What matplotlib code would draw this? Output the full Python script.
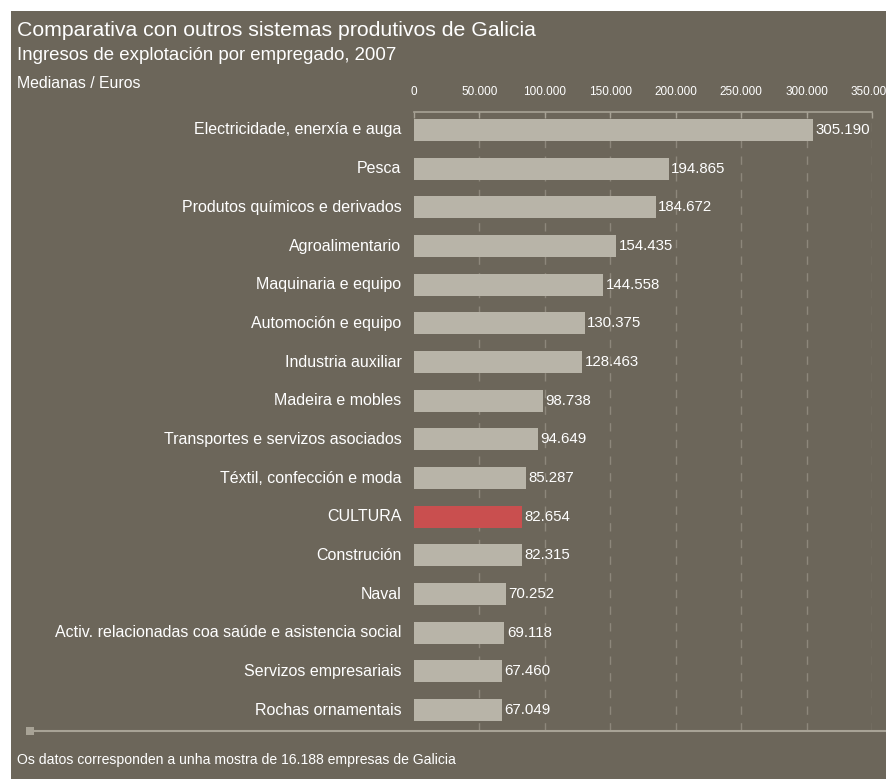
import matplotlib
matplotlib.use("Agg")
import matplotlib.pyplot as plt
from matplotlib.patches import Rectangle

categories = ["Electricidade, enerxía e auga", "Pesca", "Produtos químicos e derivados",
              "Agroalimentario", "Maquinaria e equipo", "Automoción e equipo",
              "Industria auxiliar", "Madeira e mobles", "Transportes e servizos asociados",
              "Téxtil, confección e moda", "CULTURA", "Construción", "Naval",
              "Activ. relacionadas coa saúde e asistencia social", "Servizos empresariais",
              "Rochas ornamentais"]
values = [305190, 194865, 184672, 154435, 144558, 130375, 128463, 98738, 94649,
          85287, 82654, 82315, 70252, 69118, 67460, 67049]
value_labels = ["305.190", "194.865", "184.672", "154.435", "144.558", "130.375", "128.463",
                "98.738", "94.649", "85.287", "82.654", "82.315", "70.252", "69.118",
                "67.460", "67.049"]
ticks = [0, 50000, 100000, 150000, 200000, 250000, 300000, 350000]
tick_labels = ["0", "50.000", "100.000", "150.000", "200.000", "250.000", "300.000", "350.000"]

W, H = 887, 779
BG = "#6c665a"
BAR = "#b8b4a8"
RED = "#c94f4f"
GRID = "#8d877b"
LINE = "#a8a396"
FONT = "Liberation Sans"

fig = plt.figure(figsize=(W / 100, H / 100), dpi=100)
fig.patch.set_facecolor("white")
# background panel
fig.patches.append(Rectangle((11 / W, 0), 1 - 11 / W, 1 - 11 / H, transform=fig.transFigure,
                             facecolor=BG, edgecolor="none", zorder=-10))

def fx(px):
    return px / W

def fy(py):
    return 1 - py / H

ax_left, ax_right, ax_top, ax_bot = 414, 872, 112, 731
ax = fig.add_axes([fx(ax_left), fy(ax_bot), (ax_right - ax_left) / W, (ax_bot - ax_top) / H])
ax.set_facecolor("none")
ax.set_xlim(0, 350000)
ax.set_ylim(15.54, -0.465)

colors = [RED if c == "CULTURA" else BAR for c in categories]
ypos = list(range(len(categories)))
ax.barh(ypos, values, height=0.57, color=colors, zorder=3)

for t in ticks[1:]:
    ax.axvline(t, color=GRID, lw=1, ls=(0, (6, 6)), zorder=1)

for y, v, lab in zip(ypos, values, value_labels):
    ax.text(v + 1800, y, lab, color="white", fontsize=10.8, va="center", ha="left",
            family=FONT, zorder=4)

for y, c in zip(ypos, categories):
    ax.text(-9500, y, c, color="white", fontsize=11.5, va="center", ha="right",
            family=FONT, clip_on=False)

for s in ax.spines.values():
    s.set_visible(False)
ax.spines["top"].set_visible(True)
ax.spines["top"].set_color(LINE)
ax.spines["top"].set_linewidth(1.2)
ax.xaxis.tick_top()
ax.set_xticks(ticks)
ax.set_xticklabels(tick_labels, family=FONT, fontsize=8.5, color="white")
ax.tick_params(axis="x", direction="in", length=4, color=LINE, width=1, pad=10)
ax.set_yticks([])

# bottom line with small square
fig.add_artist(plt.Line2D([fx(30), 1], [fy(731), fy(731)], transform=fig.transFigure,
                          color=LINE, lw=1.5))
fig.patches.append(Rectangle((fx(26), fy(735)), 8 / W, 8 / H, transform=fig.transFigure,
                             facecolor=LINE, edgecolor="none"))

fig.text(fx(17), fy(31), "Comparativa con outros sistemas produtivos de Galicia",
         color="white", fontsize=15.35, family=FONT, va="center", ha="left")
fig.text(fx(17), fy(55), "Ingresos de explotación por empregado, 2007",
         color="white", fontsize=13.4, family=FONT, va="center", ha="left")
fig.text(fx(17), fy(83), "Medianas / Euros",
         color="white", fontsize=11.4, family=FONT, va="center", ha="left")
fig.text(fx(17), fy(760), "Os datos corresponden a unha mostra de 16.188 empresas de Galicia",
         color="white", fontsize=10.1, family=FONT, va="center", ha="left")

fig.savefig("out.png", dpi=100, facecolor="white")
